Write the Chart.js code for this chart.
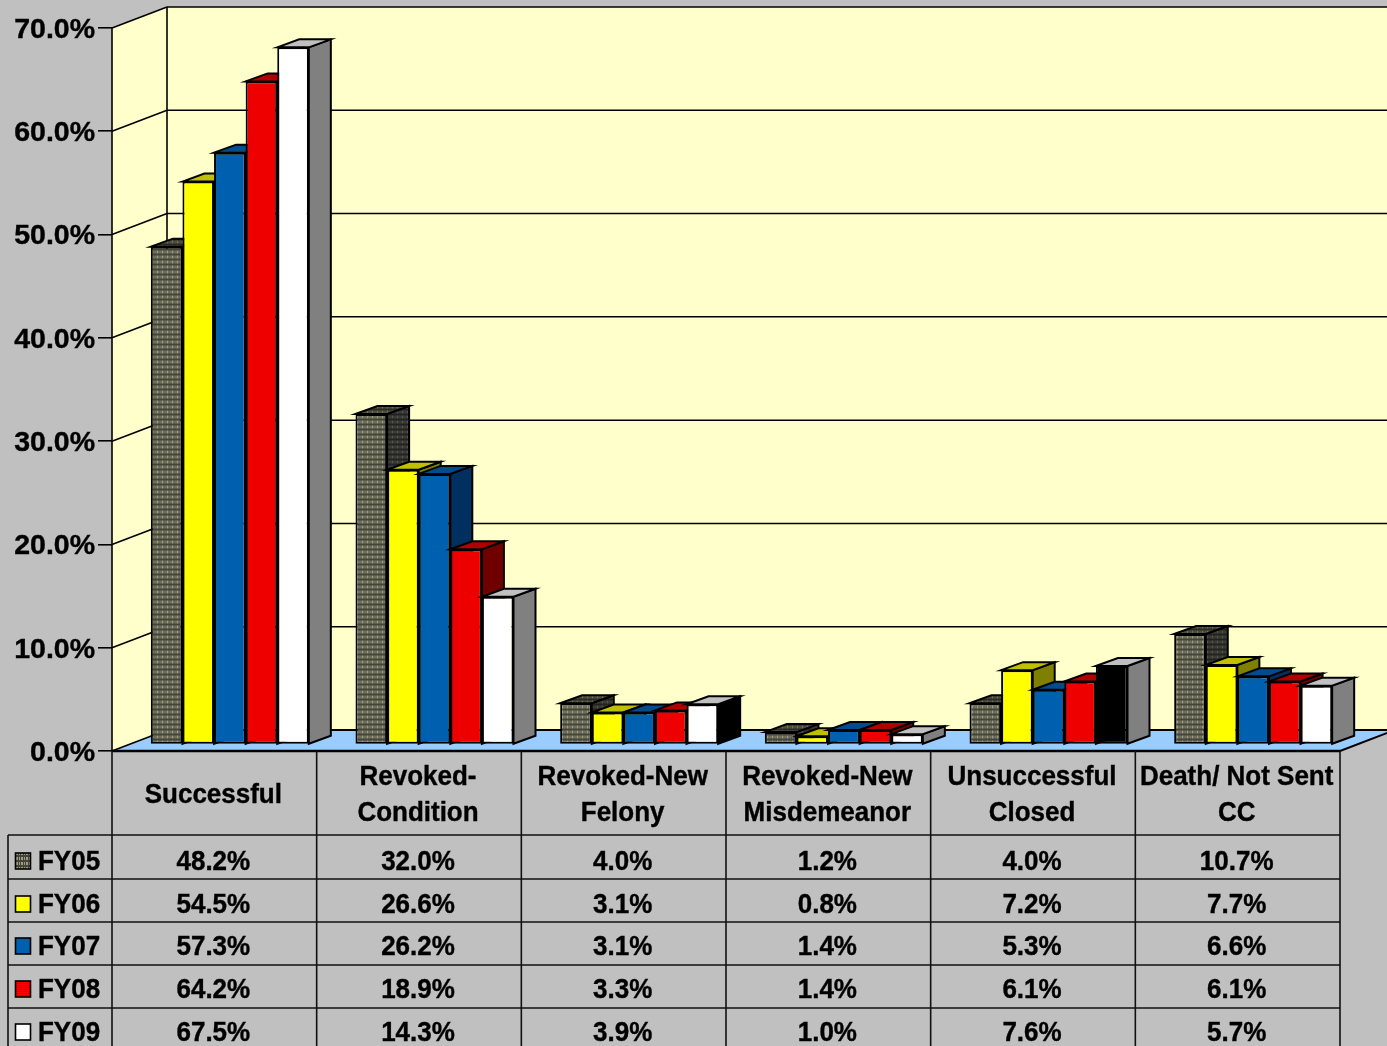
<!DOCTYPE html>
<html>
<head>
<meta charset="utf-8">
<title>Outcomes by fiscal year</title>
<script src="https://cdn.jsdelivr.net/npm/chart.js@4"></script>
<style>
    html, body { margin: 0; padding: 0; background: #c0c0c0; overflow: hidden; }
    canvas { display: block; }
</style>
</head>
<body>
<canvas id="chartCanvas" width="1387" height="1046"></canvas>
<script>
const categories = ["Successful", "Revoked-Condition", "Revoked-New Felony", "Revoked-New Misdemeanor", "Unsuccessful Closed", "Death/ Not Sent CC"];
const categoryLines = [["Successful"], ["Revoked-", "Condition"], ["Revoked-New", "Felony"], ["Revoked-New", "Misdemeanor"], ["Unsuccessful", "Closed"], ["Death/ Not Sent", "CC"]];
const seriesNames = ["FY05", "FY06", "FY07", "FY08", "FY09"];
const fy05 = [48.2, 32.0, 4.0, 1.2, 4.0, 10.7];
const fy06 = [54.5, 26.6, 3.1, 0.8, 7.2, 7.7];
const fy07 = [57.3, 26.2, 3.1, 1.4, 5.3, 6.6];
const fy08 = [64.2, 18.9, 3.3, 1.4, 6.1, 6.1];
const fy09 = [67.5, 14.3, 3.9, 1.0, 7.6, 5.7];
const seriesValues = [fy05, fy06, fy07, fy08, fy09];
const yTicks = [0, 10, 20, 30, 40, 50, 60, 70];

const FONT = '"Liberation Sans", Arial, sans-serif';

// small tile, used for the dithered look of the old chart
function tile(size, draw) {
    const c = document.createElement("canvas");
    c.width = size;
    c.height = size;
    draw(c.getContext("2d"));
    return document.createElement("canvas").getContext("2d").createPattern(c, "repeat");
}
function hatch(dark, light) {
    return tile(5, g => {
        g.fillStyle = light;
        g.fillRect(0, 0, 5, 5);
        g.fillStyle = dark;
        g.fillRect(0, 0, 5, 2);
        g.fillRect(0, 0, 1, 5);
        g.fillRect(3, 0, 1, 5);
    });
}
function stripes(a, b) {
    return tile(4, g => {
        g.fillStyle = a;
        g.fillRect(0, 0, 4, 4);
        g.fillStyle = b;
        g.fillRect(0, 1, 4, 1);
        g.fillRect(0, 3, 4, 1);
    });
}

const frontColors = [hatch("#44443a", "#9c9c80"), "#ffff00", "#0060b0", stripes("#ff0000", "#e00000"), "#ffffff"];
const topColors = [hatch("#2c2c24", "#70705a"), "#c0c000", "#004c8c", "#b00000", "#c0c0c0"];
const sideColors = [hatch("#222220", "#54544a"), "#808000", "#003060", "#700000", "#808080"];

// the two odd bars of the FY09 series
function frontColor(ds, i) {
    if (ds === 4 && i === 4) return "#000000";
    return frontColors[ds];
}
function sideColor(ds, i) {
    if (ds === 4 && i === 2) return "#000000";
    return sideColors[ds];
}

const bar3d = { dx: 22, dy: -8 };
const barShift = { x: 15.5, y: -6.5 };
const wall = { dx: 55, dy: -21 };

function poly(ctx, pts, fill, stroke, width) {
    ctx.beginPath();
    pts.forEach((p, i) => i ? ctx.lineTo(p[0], p[1]) : ctx.moveTo(p[0], p[1]));
    ctx.closePath();
    if (fill) {
        ctx.fillStyle = fill;
        ctx.fill();
    }
    if (stroke) {
        ctx.strokeStyle = stroke;
        ctx.lineWidth = width || 2;
        ctx.stroke();
    }
}
function line(ctx, x1, y1, x2, y2, color, width) {
    ctx.beginPath();
    ctx.moveTo(x1, y1);
    ctx.lineTo(x2, y2);
    ctx.strokeStyle = color;
    ctx.lineWidth = width;
    ctx.stroke();
}
// the reference type is a little taller and narrower than Liberation
function tallText(ctx, text, x, y) {
    ctx.save();
    ctx.translate(x, y);
    ctx.scale(0.945, 1);
    ctx.fillText(text, 0, 0);
    ctx.strokeStyle = "#000";
    ctx.lineWidth = 0.4;
    ctx.strokeText(text, 0, 0);
    ctx.restore();
}

const scene = {
    id: "scene",
    beforeDatasetsDraw(chart) {
        const ctx = chart.ctx;
        const x = chart.scales.x, y = chart.scales.y;
        const w = chart.width;
        const y0 = y.getPixelForValue(0), yTop = y.getPixelForValue(70);
        const backX = x.left + wall.dx;

        // walls and floor
        poly(ctx, [[backX, yTop + wall.dy], [w + 5, yTop + wall.dy], [w + 5, y0 + wall.dy], [backX, y0 + wall.dy]], "#ffffcc");
        poly(ctx, [[x.left, yTop], [backX, yTop + wall.dy], [backX, y0 + wall.dy], [x.left, y0]], "#ffffcc");
        poly(ctx, [[x.left, y0], [backX, y0 + wall.dy], [w + 5, y0 + wall.dy], [x.right + wall.dx, y0 + wall.dy], [x.right, y0]], "#99ccff");

        yTicks.forEach(t => {
            const py = y.getPixelForValue(t);
            line(ctx, x.left, py, backX, py + wall.dy, "#000", 1.6);
            line(ctx, backX, py + wall.dy, w + 5, py + wall.dy, "#000", t === 0 ? 2 : 1.5);
        });
        line(ctx, backX, yTop + wall.dy, backX, y0 + wall.dy, "#000", 1.6);
        line(ctx, x.left, yTop, x.left, y0, "#000", 1.6);
        line(ctx, x.right, y0, x.right + wall.dx, y0 + wall.dy, "#000", 2);

        // the bars sit a bit behind the front edge of the floor
        ctx.save();
        ctx.translate(barShift.x, barShift.y);
        categories.forEach((c, i) => {
            seriesNames.forEach((s, ds) => {
                const bar = chart.getDatasetMeta(ds).data[i];
                const p = bar.getProps(["x", "y", "base", "width"], true);
                const l = p.x - p.width / 2, r = p.x + p.width / 2;
                poly(ctx, [[r, p.y], [r + bar3d.dx, p.y + bar3d.dy], [r + bar3d.dx, p.base + bar3d.dy], [r, p.base]], sideColor(ds, i), "#000", 2);
                poly(ctx, [[l, p.y], [l + bar3d.dx, p.y + bar3d.dy], [r + bar3d.dx, p.y + bar3d.dy], [r, p.y]], topColors[ds], "#000", 2);
                bar.draw(ctx);
            });
        });
        ctx.restore();

        drawTable(chart);
        return false;
    }
};

function drawTable(chart) {
    const ctx = chart.ctx;
    const x = chart.scales.x, y = chart.scales.y;
    const y0 = y.getPixelForValue(0);
    const colW = x.width / categories.length;
    const headBottom = 835;
    const rowBottoms = [879, 922, 965, 1008, 1051];
    const rowMid = [862, 905, 947, 990, 1033];
    const leftEdge = 8;
    const h = chart.height;

    line(ctx, x.left, y0, x.right, y0, "#000", 2.5);
    for (let i = 0; i <= categories.length; i++) {
        const px = x.left + i * colW;
        line(ctx, px, y0, px, h, "#111", 1.6);
    }
    line(ctx, leftEdge, headBottom, leftEdge, h, "#111", 1.6);
    line(ctx, leftEdge, headBottom, x.right, headBottom, "#111", 1.6);
    rowBottoms.forEach(b => line(ctx, leftEdge, b, x.right, b, "#111", 1.6));

    ctx.fillStyle = "#000";
    ctx.font = "bold 27.5px " + FONT;
    ctx.textAlign = "center";
    ctx.textBaseline = "middle";
    categoryLines.forEach((lines, i) => {
        const cx = x.left + (i + 0.5) * colW - 1;
        if (lines.length === 1) {
            tallText(ctx, lines[0], cx, 795);
        } else {
            tallText(ctx, lines[0], cx, 777);
            tallText(ctx, lines[1], cx, 813);
        }
    });

    seriesNames.forEach((name, ds) => {
        seriesValues[ds].forEach((v, i) => {
            ctx.fillStyle = "#000";
            ctx.textAlign = "center";
            tallText(ctx, v.toFixed(1) + "%", x.left + (i + 0.5) * colW - 1, rowMid[ds]);
        });
        ctx.fillStyle = frontColors[ds];
        ctx.fillRect(15.5, rowMid[ds] - 9, 15, 16);
        ctx.strokeStyle = "#000";
        ctx.lineWidth = 1.6;
        ctx.strokeRect(15.5, rowMid[ds] - 9, 15, 16);
        ctx.fillStyle = "#000";
        ctx.textAlign = "left";
        tallText(ctx, name, 38, rowMid[ds]);
    });
}

new Chart(document.getElementById("chartCanvas").getContext("2d"), {
    type: "bar",
    data: {
        labels: categories,
        datasets: seriesNames.map((name, ds) => ({
            label: name,
            data: seriesValues[ds],
            backgroundColor: c => frontColor(ds, c.dataIndex),
            borderColor: "#000000",
            borderWidth: 2,
            borderSkipped: false
        }))
    },
    options: {
        responsive: false,
        animation: false,
        layout: { padding: { top: 28, right: 47, left: 0, bottom: 0 } },
        categoryPercentage: 0.772,
        barPercentage: 1,
        plugins: { legend: { display: false }, title: { display: false }, tooltip: { enabled: false } },
        scales: {
            x: {
                ticks: { display: false },
                grid: { display: false },
                border: { display: false },
                afterFit(s) { s.height = 295; }
            },
            y: {
                min: 0,
                max: 70,
                afterFit(s) { s.width = 112; },
                afterBuildTicks(s) { s.ticks = yTicks.map(v => ({ value: v })); },
                ticks: {
                    color: "#000",
                    padding: 3,
                    labelOffset: 2,
                    textStrokeColor: "#000",
                    textStrokeWidth: 0.4,
                    font: { family: FONT, size: 28.5, weight: "bold" },
                    callback: v => v.toFixed(1) + "%"
                },
                grid: { drawOnChartArea: false, drawTicks: true, tickLength: 14, color: "#000", lineWidth: 1.6 },
                border: { display: false }
            }
        }
    },
    plugins: [scene]
});
</script>
</body>
</html>
